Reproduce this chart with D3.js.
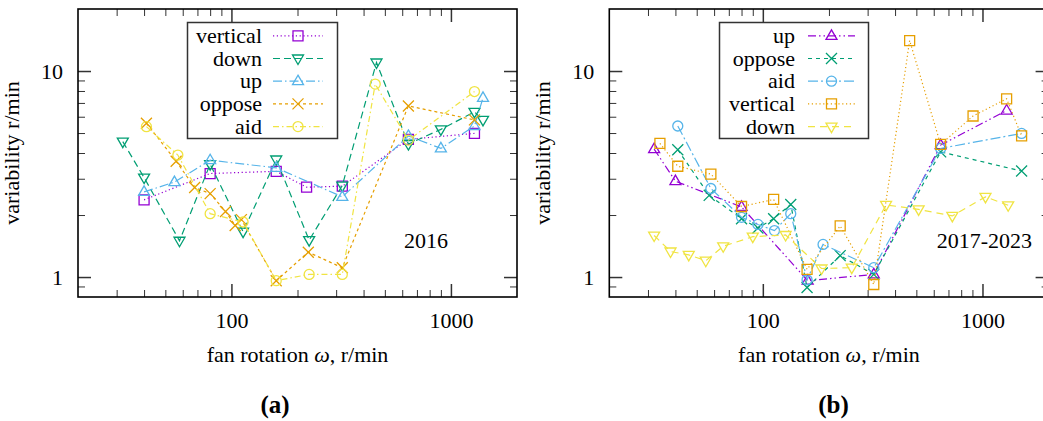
<!DOCTYPE html>
<html>
<head>
<meta charset="utf-8">
<script src="https://cdn.jsdelivr.net/npm/d3@7"></script>
<style>
  body { margin: 0; background: #fff; }
  svg { display: block; }
  text { font-family: "Liberation Serif", "Times New Roman", serif; }
</style>
</head>
<body>
<svg id="chart" width="1043" height="421"></svg>
<script>
// ---------------- data ----------------
const xMajorTicks = [100, 1000];
const yMajorTicks = [1, 10];
const xMinorTicks = [30, 40, 50, 60, 70, 80, 90, 200, 300, 400, 500, 600, 700, 800, 900];
const yMinorTicks = [0.9, 2, 3, 4, 5, 6, 7, 8, 9];

// panel (a) 2016
const aVerticalX = [40, 80, 160, 220, 320, 640, 1280];
const aVerticalY = [2.37, 3.18, 3.26, 2.73, 2.76, 4.66, 4.98];
const aDownX = [32, 40, 58, 80, 113, 160, 226, 320, 458, 640, 900, 1280, 1400];
const aDownY = [4.54, 3.04, 1.50, 3.53, 1.66, 3.72, 1.51, 2.78, 11.0, 4.42, 5.21, 6.33, 5.79];
const aUpX = [40, 55, 80, 160, 320, 640, 900, 1280, 1400];
const aUpY = [2.59, 2.89, 3.69, 3.39, 2.45, 4.84, 4.21, 5.41, 7.41];
const aOpposeX = [41, 56, 68, 80, 94, 104, 111, 160, 224, 320, 640, 1280];
const aOpposeY = [5.58, 3.65, 2.72, 2.54, 2.08, 1.78, 1.90, 0.96, 1.32, 1.11, 6.77, 5.79];
const aAidX = [41, 57, 80, 113, 160, 226, 320, 452, 640, 1280];
const aAidY = [5.37, 3.91, 2.03, 1.85, 0.96, 1.03, 1.03, 8.64, 4.62, 7.95];

// panel (b) 2017-2023
const bUpX = [32, 40, 80, 160, 320, 645, 1288];
const bUpY = [4.18, 2.92, 2.19, 0.96, 1.03, 4.37, 6.43];
const bOpposeX = [41, 57, 80, 95, 112, 134, 159, 225, 320, 645, 1507];
const bOpposeY = [4.15, 2.49, 1.92, 1.73, 1.92, 2.25, 0.89, 1.27, 1.03, 4.05, 3.27];
const bAidX = [41, 58, 80, 95, 113, 134, 159, 188, 320, 645, 1507];
const bAidY = [5.41, 2.69, 1.95, 1.80, 1.68, 2.03, 0.97, 1.44, 1.11, 4.21, 4.98];
const bVerticalX = [34, 41, 58, 80, 112, 159, 225, 320, 466, 645, 906, 1288, 1507];
const bVerticalY = [4.45, 3.45, 3.16, 2.20, 2.38, 1.09, 1.77, 0.92, 14.06, 4.40, 6.05, 7.33, 4.84];
const bDownX = [32, 38, 46, 55, 66, 90, 127, 185, 254, 364, 512, 729, 1032, 1309];
const bDownY = [1.59, 1.33, 1.28, 1.20, 1.41, 1.57, 1.60, 1.10, 1.11, 2.24, 2.13, 1.98, 2.45, 2.23];

const xLabel = "fan rotation \u03C9, r/min";
const yLabel = "variability r/min";

// ---------------- styles ----------------
const C = { purple: "#9400d3", green: "#009e73", blue: "#56b4e9", orange: "#e69f00", yellow: "#f0e442" };

const panelA = {
  left: 78, right: 517, top: 9, bottom: 297,
  yearLabel: "2016", yearRight: 448, subLabel: "(a)", subX: 275,
  legend: { x0: 187.5, x1: 337.5, y0: 22.5, y1: 138.5, textRight: 262, lineX0: 273, lineX1: 323 },
  series: [
    { name: "vertical", xs: aVerticalX, ys: aVerticalY, color: C.purple, dash: "1.2,2.6", marker: "square" },
    { name: "down", xs: aDownX, ys: aDownY, color: C.green, dash: "7,4", marker: "tridown" },
    { name: "up", xs: aUpX, ys: aUpY, color: C.blue, dash: "9,3,1.5,3", marker: "triup" },
    { name: "oppose", xs: aOpposeX, ys: aOpposeY, color: C.orange, dash: "3,3", marker: "cross" },
    { name: "aid", xs: aAidX, ys: aAidY, color: C.yellow, dash: "6,3,1.5,3", marker: "circle" }
  ]
};
const panelB = {
  left: 609.3, right: 1048.6, top: 9, bottom: 297,
  yearLabel: "2017-2023", yearRight: 1032, subLabel: "(b)", subX: 833.5,
  legend: { x0: 719.5, x1: 868.5, y0: 22.5, y1: 138.5, textRight: 795, lineX0: 808, lineX1: 855 },
  series: [
    { name: "up", xs: bUpX, ys: bUpY, color: C.purple, dash: "8,3,1.5,3,1.5,3", marker: "triup" },
    { name: "oppose", xs: bOpposeX, ys: bOpposeY, color: C.green, dash: "4,4", marker: "cross" },
    { name: "aid", xs: bAidX, ys: bAidY, color: C.blue, dash: "10,3,2,3", marker: "circle" },
    { name: "vertical", xs: bVerticalX, ys: bVerticalY, color: C.orange, dash: "1.2,2.6", marker: "square" },
    { name: "down", xs: bDownX, ys: bDownY, color: C.yellow, dash: "7,5", marker: "tridown" }
  ]
};

const svg = d3.select("#chart");
svg.append("rect").attr("width", 1043).attr("height", 421).attr("fill", "#fff");

function markerPath(type) {
  const s = 5;
  switch (type) {
    case "square": return `M${-s},${-s}H${s}V${s}H${-s}Z`;
    case "triup": return `M0,${-6}L${5.5},${3.5}L${-5.5},${3.5}Z`;
    case "tridown": return `M0,${6}L${5.5},${-3.5}L${-5.5},${-3.5}Z`;
    case "cross": return `M${-5.5},${-5.5}L${5.5},${5.5}M${-5.5},${5.5}L${5.5},${-5.5}`;
    case "circle": return `M${s},0A${s},${s},0,1,1,${-s},0A${s},${s},0,1,1,${s},0Z`;
  }
}

function drawPanel(p) {
  const x = d3.scaleLog().domain([20, 2000]).range([p.left, p.right]);
  const y = d3.scaleLog().domain([0.8, 20]).range([p.bottom, p.top]);
  const g = svg.append("g");

  // axes: ticks inward on all four sides
  const tickStyle = (sel, w) => {
    sel.select(".domain").remove();
    sel.selectAll(".tick line").attr("stroke", "#333").attr("stroke-width", w);
    sel.selectAll(".tick text").attr("font-family", "Liberation Serif, serif").attr("font-size", 22).attr("fill", "#000");
  };
  g.append("g").attr("transform", `translate(0,${p.bottom})`)
    .call(d3.axisBottom(x).tickValues(xMajorTicks).tickSize(-13).tickPadding(15).tickFormat(d3.format("d")))
    .call(s => tickStyle(s, 1.5));
  g.append("g").attr("transform", `translate(0,${p.bottom})`)
    .call(d3.axisBottom(x).tickValues(xMinorTicks).tickSize(-7).tickFormat(""))
    .call(s => tickStyle(s, 1));
  g.append("g").attr("transform", `translate(0,${p.top})`)
    .call(d3.axisTop(x).tickValues(xMajorTicks).tickSize(-13).tickFormat(""))
    .call(s => tickStyle(s, 1.5));
  g.append("g").attr("transform", `translate(0,${p.top})`)
    .call(d3.axisTop(x).tickValues(xMinorTicks).tickSize(-7).tickFormat(""))
    .call(s => tickStyle(s, 1));
  g.append("g").attr("transform", `translate(${p.left},0)`)
    .call(d3.axisLeft(y).tickValues(yMajorTicks).tickSize(-13).tickPadding(15).tickFormat(d3.format("d")))
    .call(s => tickStyle(s, 1.5));
  g.append("g").attr("transform", `translate(${p.left},0)`)
    .call(d3.axisLeft(y).tickValues(yMinorTicks).tickSize(-7).tickFormat(""))
    .call(s => tickStyle(s, 1));
  g.append("g").attr("transform", `translate(${p.right},0)`)
    .call(d3.axisRight(y).tickValues(yMajorTicks).tickSize(-13).tickFormat(""))
    .call(s => tickStyle(s, 1.5));
  g.append("g").attr("transform", `translate(${p.right},0)`)
    .call(d3.axisRight(y).tickValues(yMinorTicks).tickSize(-7).tickFormat(""))
    .call(s => tickStyle(s, 1));

  // series
  const line = d3.line().x(d => x(d[0])).y(d => y(d[1]));
  p.series.forEach(s => {
    const pts = s.xs.map((v, i) => [v, s.ys[i]]);
    g.append("path").datum(pts).attr("d", line)
      .attr("fill", "none").attr("stroke", s.color).attr("stroke-width", 1.2)
      .attr("stroke-dasharray", s.dash);
    g.selectAll(null).data(pts).enter().append("path")
      .attr("transform", d => `translate(${x(d[0])},${y(d[1])})`)
      .attr("d", markerPath(s.marker))
      .attr("fill", "none").attr("stroke", s.color).attr("stroke-width", 1.3);
  });

  // frame
  g.append("rect").attr("x", p.left).attr("y", p.top)
    .attr("width", p.right - p.left).attr("height", p.bottom - p.top)
    .attr("fill", "none").attr("stroke", "#000").attr("stroke-width", 1.6);

  // legend
  const L = p.legend;
  g.append("rect").attr("x", L.x0).attr("y", L.y0).attr("width", L.x1 - L.x0).attr("height", L.y1 - L.y0)
    .attr("fill", "#fff").attr("stroke", "#333").attr("stroke-width", 1.5);
  const rowY = i => L.y0 + 13.3 + i * 22.7;
  p.series.forEach((s, i) => {
    const yy = rowY(i);
    g.append("text").attr("x", L.textRight).attr("y", yy + 7).attr("text-anchor", "end")
      .attr("font-size", 22).text(s.name);
    g.append("line").attr("x1", L.lineX0).attr("x2", L.lineX1).attr("y1", yy).attr("y2", yy)
      .attr("stroke", s.color).attr("stroke-width", 1.2).attr("stroke-dasharray", s.dash);
    g.append("path").attr("transform", `translate(${(L.lineX0 + L.lineX1) / 2},${yy})`)
      .attr("d", markerPath(s.marker)).attr("fill", "none").attr("stroke", s.color).attr("stroke-width", 1.3);
  });

  // labels
  const cx = (p.left + p.right) / 2;
  g.append("text").attr("x", cx).attr("y", 362).attr("text-anchor", "middle").attr("font-size", 22)
    .html("fan rotation <tspan font-style='italic'>\u03C9</tspan>, r/min");
  g.append("text").attr("transform", `translate(${p.left - 59},${(p.top + p.bottom) / 2}) rotate(-90)`)
    .attr("text-anchor", "middle").attr("font-size", 22).text(yLabel);
  g.append("text").attr("x", p.yearRight).attr("y", 248).attr("text-anchor", "end").attr("font-size", 22)
    .text(p.yearLabel);
  g.append("text").attr("x", p.subX).attr("y", 413).attr("text-anchor", "middle").attr("font-size", 25)
    .attr("font-weight", "bold").text(p.subLabel);
}

drawPanel(panelA);
drawPanel(panelB);
</script>
</body>
</html>
